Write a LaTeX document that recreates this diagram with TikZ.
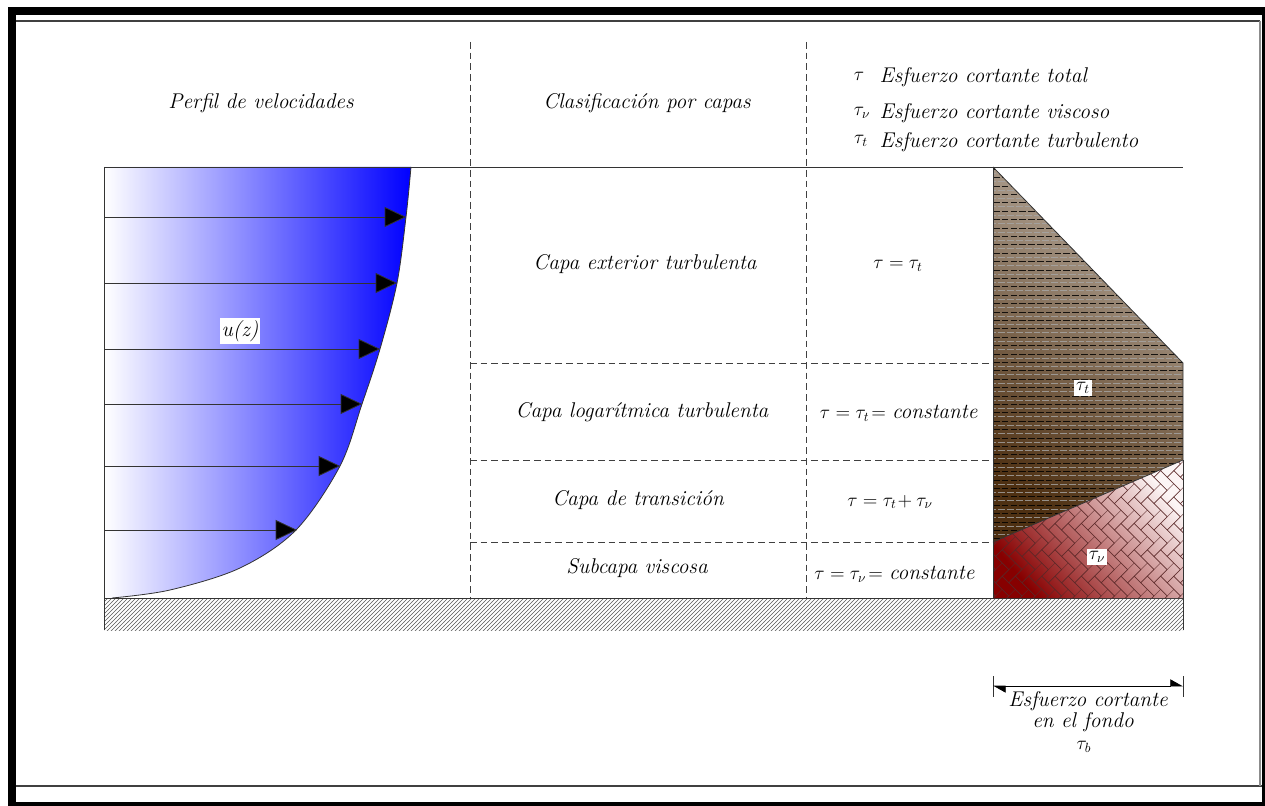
\documentclass[tikz,border=0pt]{standalone}
\usepackage{fontspec}
\usetikzlibrary{arrows.meta,patterns}
\definecolor{brownlight}{RGB}{185,172,158}
\definecolor{browndark}{RGB}{78,48,18}
\definecolor{reddark}{RGB}{135,0,0}
\definecolor{redlight}{RGB}{252,245,245}
\definecolor{brick}{RGB}{90,40,40}
\begin{document}
\begin{tikzpicture}[x=0.75pt,y=-0.75pt,
  lbl/.style={font=\fontsize{16}{12}\selectfont\itshape, inner sep=1pt},
  mth/.style={font=\fontsize{14}{13}\selectfont, inner sep=1pt},
  dashln/.style={draw=black!75, dash pattern=on 5pt off 3pt, line width=0.6pt},
  edge/.style={draw=black!80, line width=0.6pt},
  varrow/.style={draw=black!80, line width=0.6pt, -{Triangle[length=16pt,width=15pt,fill=black]}},
  wbox/.style={fill=white, inner sep=1.5pt},
]
\newcommand{\cst}{{\fontsize{16}{12}\selectfont\itshape constante}}
\useasboundingbox (0,0) rectangle (1265,806);
% frame
\fill[black] (8,7) rectangle (1265,806);
\fill[white] (16,15) rectangle (1262,802);
\draw[black!75, line width=0.8pt] (16,21) -- (1260,21);
\draw[black!75, line width=0.8pt] (16,786) -- (1262,786);
\draw[black!45, line width=1.5pt] (1260,21) -- (1260,786);

% velocity profile
\shade[left color=white, right color=blue] (104,598) -- (104,167) -- plot[smooth, tension=0.55] coordinates {(411,167) (406,217) (397,283) (380,349) (362,404) (340,466) (296,530) (240,568) (170,590) (112,598)} -- cycle;
\draw[edge] plot[smooth, tension=0.55] coordinates {(411,167) (406,217) (397,283) (380,349) (362,404) (340,466) (296,530) (240,568) (170,590) (112,598)};

% ground
\fill[pattern=north east lines, pattern color=black!65] (104,598) rectangle (1183,630);

% structure lines
\draw[edge] (104,167) -- (1183,167);
\draw[edge] (104,167) -- (104,630);
\draw[edge] (104,598) -- (1183,598);
\draw[dashln] (470,42) -- (470,598);
\draw[dashln] (806,42) -- (806,598);
\draw[dashln] (470,363) -- (993,363);
\draw[dashln] (470,460) -- (993,460);
\draw[dashln] (470,542) -- (993,542);

% velocity arrows
\foreach \n/\y/\x in {1/217/406, 2/283/397, 3/349/380, 4/404/362, 5/466/340, 6/530/297}{
  \coordinate (as\n) at (104,\y);
  \coordinate (ae\n) at (\x,\y);
  \draw[varrow] (as\n) -- (ae\n);
}
\node[lbl, wbox] (uz) at (240,331) {u(z)};

% stress diagram
\coordinate (st) at (993,167);
\coordinate (sr1) at (1183,363);
\coordinate (sr2) at (1183,460);
\coordinate (sl) at (993,542);
\coordinate (sb) at (993,598);
\coordinate (sbr) at (1183,598);
\begin{scope}
  \clip (st) -- (sr1) -- (sr2) -- (sl) -- cycle;
  \shade[top color=brownlight, bottom color=browndark, shading angle=-35] (st) -- (sr1) -- (sr2) -- (sl) -- cycle;
  \foreach \i in {0,...,96}{
    \pgfmathsetmacro\yy{169+4.2*\i}
    \ifodd\i
      \draw[black!35, line width=0.55pt, opacity=0.8, dash pattern=on 5pt off 1.6pt, dash phase=2.5pt] (993,\yy) -- (1183,\yy);
    \else
      \draw[black, line width=0.4pt, opacity=0.85, dash pattern=on 5pt off 1.6pt] (993,\yy) -- (1183,\yy);
    \fi
  }
\end{scope}
\begin{scope}
  \clip (sl) -- (sr2) -- (sbr) -- (sb) -- cycle;
  \shade[top color=redlight, bottom color=reddark, shading angle=-50] (sl) -- (sr2) -- (sbr) -- (sb) -- cycle;
  \begin{scope}[shift={(1088,530)}, x=7pt, y=7pt, rotate=45]
    \foreach \k in {-7,...,7}{
      \foreach \m in {-14,...,14}{
        \draw[brick, line width=0.4pt, opacity=0.75]
          ({2*\k+\m},{2*\k-\m}) rectangle ++(2,1)
          ({2*\k+\m+1},{2*\k-\m+1}) rectangle ++(1,2);
      }
    }
  \end{scope}
\end{scope}
\draw[edge] (st) -- (sr1) -- (sr2) -- (sl);
\draw[edge] (sr2) -- (sbr);
\draw[edge] (st) -- (sb);
\draw[edge] (sbr) -- (1183,630);
\node[mth, wbox] (ltt) at (1083,388) {$\tau_t$};
\node[mth, wbox] (ltv) at (1097,557) {$\tau_\nu$};

% headers
\node[lbl] (h1) at (261,103) {Perfil de velocidades};
\node[lbl] (h2) at (647,103) {Clasificación por capas};
\node[mth] (g1) at (859,76) {$\tau$};
\node[lbl, anchor=west] (g1t) at (878,77) {Esfuerzo cortante total};
\node[mth] (g2) at (862,113) {$\tau_\nu$};
\node[lbl, anchor=west] (g2t) at (878,113) {Esfuerzo cortante viscoso};
\node[mth] (g3) at (861,141) {$\tau_t$};
\node[lbl, anchor=west] (g3t) at (878,142) {Esfuerzo cortante turbulento};

% layers
\node[lbl] (c1) at (645,264) {Capa exterior turbulenta};
\node[lbl] (c2) at (642,412) {Capa logarítmica turbulenta};
\node[lbl] (c3) at (638,500) {Capa de transición};
\node[lbl] (c4) at (637,568) {Subcapa viscosa};

% formulas
\node[mth] (f1) at (898,266) {$\tau=\tau_t$};
\node[mth, anchor=east] (f2) at (979,413) {$\tau=\tau_t\!=$\ \cst};
\node[mth] (f3) at (890,502) {$\tau=\tau_t\!+\tau_\nu$};
\node[mth, anchor=east] (f4) at (976,574) {$\tau=\tau_\nu\!=$ \cst};

% bottom dimension
\coordinate (d1) at (993,686);
\coordinate (d2) at (1183,686);
\draw[edge] (993,676) -- (993,697);
\draw[edge] (1183,676) -- (1183,697);
\draw[line width=0.6pt, {Triangle[harpoon,length=9pt,width=10pt]}-{Triangle[harpoon,length=9pt,width=10pt]}] (d1) -- (d2);
\node[lbl, inner sep=0pt] (cap1) at (1088,701) {Esfuerzo cortante};
\node[lbl, inner sep=0pt] (cap2) at (1083,722) {en el fondo};
\node[mth] (tb) at (1084,747) {$\tau_b$};
\end{tikzpicture}
\end{document}
